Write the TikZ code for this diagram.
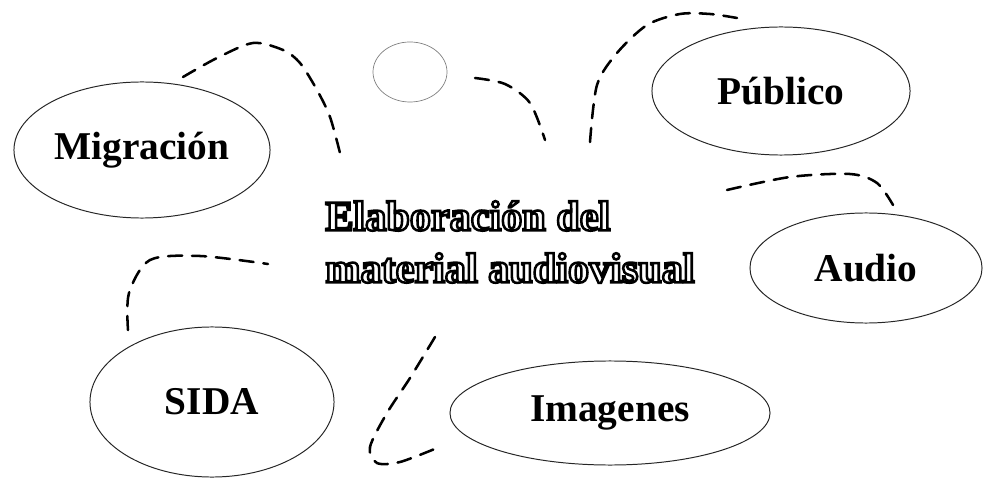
\documentclass[tikz,border=0pt]{standalone}
\usepackage{fontspec}
\setmainfont{Liberation Serif}
\usetikzlibrary{shapes.geometric}
\newcommand{\hollow}[1]{\special{pdf:literal direct 2 Tr 1.8 w 1 g}#1\special{pdf:literal direct 0 Tr 0 g}}
\tikzset{
  bubble/.style={draw=black!85, ellipse, line width=0.7pt, inner sep=0pt,
    font=\bfseries\fontsize{28}{32}\selectfont},
  swoosh/.style={line width=1.8pt, dash pattern=on 10pt off 7pt, line cap=round}
}
\begin{document}
\begin{tikzpicture}[x=0.025cm, y=-0.025cm]
  \useasboundingbox (0,0) rectangle (992,478);

  % topics
  \node[bubble, minimum width=6.4cm, minimum height=3.4cm] (migracion) at (142,150) {Migración};
  \node[bubble, minimum width=6.45cm, minimum height=3.2cm] (publico) at (781,91) {Público};
  \node[bubble, minimum width=5.8cm, minimum height=2.75cm] (audio) at (866,268) {Audio};
  \node[bubble, minimum width=6.1cm, minimum height=3.75cm] (sida) at (212,402) {SIDA};
  \node[bubble, minimum width=8cm, minimum height=2.6cm] (imagenes) at (610,413) {Imagenes};
  \node[bubble, draw=black!50, line width=0.5pt, minimum width=1.85cm, minimum height=1.5cm] (blank) at (410,72) {};

  % centre
  \node[align=left, font=\bfseries\fontsize{30}{37}\selectfont] (centro) at (510,242)
    {\hollow{Elaboración del}\\\hollow{material audiovisual}};

  % dashed swirls
  \draw[swoosh] plot[smooth] coordinates {(183,77) (217,58) (253,43) (283,50) (300,63) (317,90) (330,117) (340,153)};
  \draw[swoosh] plot[smooth] coordinates {(475,78) (505,84) (530,103) (545,140)};
  \draw[swoosh] plot[smooth] coordinates {(590,142) (597,85) (617,53) (647,25) (680,14) (710,14) (737,18)};
  \draw[swoosh] plot[smooth] coordinates {(727,190) (790,177) (850,174) (877,183) (893,205)};
  \draw[swoosh] plot[smooth] coordinates {(128,330) (129,293) (150,260) (200,256) (268,264)};
  \draw[swoosh] plot[smooth] coordinates {(435,337) (410,378) (387,413) (370,447) (377,463) (400,462) (437,448)};
\end{tikzpicture}
\end{document}
